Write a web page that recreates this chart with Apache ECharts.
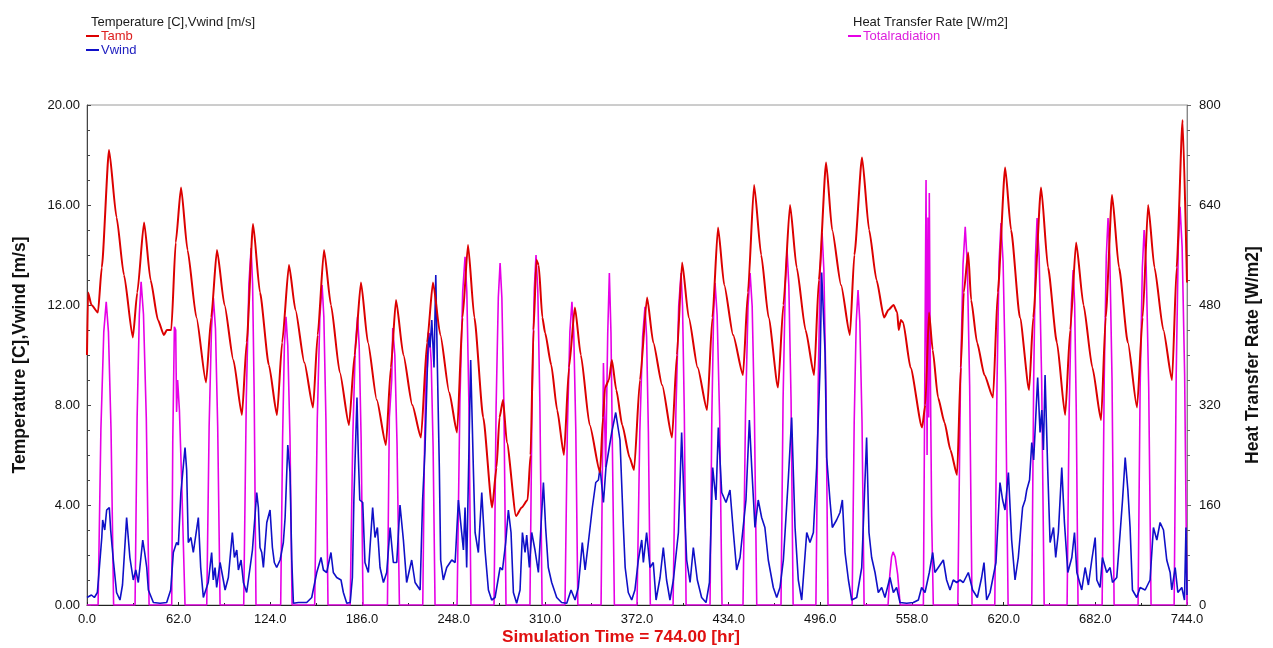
<!DOCTYPE html>
<html>
<head>
<meta charset="utf-8">
<title>Simulation Time = 744.00 [hr]</title>
<script src="https://cdn.jsdelivr.net/npm/echarts@6/dist/echarts.min.js"></script>
<style>
  html, body { margin: 0; padding: 0; background: #ffffff; }
  #chart { width: 1273px; height: 648px; }
</style>
</head>
<body>
<div id="chart"></div>
<script>
// Axis settings
const timeMax = 744;
const timeStep = 62;
const tempMax = 20;
const tempStep = 4;
const radMax = 800;
const radStep = 160;

// Ambient temperature [C]: [hour, value]
const tamb = [
  [0,10.0],[0.7,12.5],[3,12.0],[7.4,11.7],[10,13.5],[14.9,18.2],[20,15.5],[25,13.2],[31,10.7],[34,12.5],
  [38.6,15.3],[43,13.0],[48,11.4],[52,10.8],[54,11.0],[57,11.0],[60,14.5],[63.6,16.7],[68,14.2],[74,11.5],
  [80.5,8.9],[84,11.5],[87.9,14.2],[93,12.0],[99,9.8],[104.8,7.6],[108,10.5],[112.3,15.24],[117,12.5],[123,9.6],
  [128.5,7.6],[132,10.5],[136.6,13.6],[141,11.8],[147,9.7],[152.9,7.9],[156,10.8],[160.3,14.2],[165,12.0],[171,9.3],
  [177.2,7.2],[181,10],[185.3,12.9],[190,10.5],[196,8.2],[202.2,6.4],[205.5,9.5],[209,12.2],[214,10.0],[220,8.0],
  [225.9,6.7],[230,10.5],[234,12.9],[239,10.8],[245,8.5],[250.3,6.9],[254,11.5],[257.7,14.4],[262,11.5],[268,7.5],
  [274,3.9],[277,5.5],[279,7.5],[281.4,8.2],[284,6.5],[290.2,3.56],[294,3.9],[298,4.2],[300,6.0],[302,11],
  [304,13.8],[305.5,13.6],[308,11.5],[309.8,10.9],[314,9.6],[318,7.8],[322.6,6.0],[326,9.5],[330,11.9],[334,10.0],
  [340,7.2],[347,5.3],[349,7.5],[350.4,8.7],[353,9.0],[355,9.8],[358,8.6],[362,7.2],[367,5.9],[370,5.4],
  [374,9],[378.8,12.3],[383,10.5],[389,8.8],[395.7,6.7],[399,10],[402.5,13.7],[407,11.5],[413,9.5],[419.4,7.8],
  [423,11.5],[426.8,15.1],[431,12.8],[437,10.8],[443.7,9.2],[447,12.5],[451.2,16.8],[456,14],[461,11.5],[467.4,8.7],
  [471,12],[475.5,16.0],[480,13.5],[486,11],[491.8,9.2],[495,13],[499.9,17.7],[504,15.0],[510,12.8],[516,10.8],
  [519,14],[524.2,17.9],[529,15],[534,13],[539.1,11.5],[542,11.8],[545.5,12.0],[548,11.7],[549,11.0],[550.5,11.4],
  [552,11.3],[557,9.5],[564.8,7.1],[567,8.0],[569.5,11.7],[572,10.2],[575.6,8.3],[580,7.3],[584,6.2],[588.5,5.2],
  [591,9.5],[593,12.5],[596,14.1],[598,12.2],[602,10.5],[607,9.2],[612.8,8.3],[616,12.5],[621,17.5],[625,15.0],
  [631,11.5],[637.2,8.6],[640,11.5],[645.3,16.7],[650,13.5],[656,10.5],[661.6,7.6],[665,11],[669,14.5],[674,12],
  [680,9.5],[685.9,7.4],[689,11.5],[693.3,16.4],[698,13.5],[704,10.5],[710.2,7.9],[714,11.5],[717.7,16.0],[722,13.5],
  [728,11.0],[733.9,9.0],[737,13.5],[741,19.4],[744,12.9]
];

// Wind speed [m/s]: [hour, value]
const vwind = [
  [0,0.3],[3,0.4],[5,0.3],[7,0.5],[7.7,1.0],[10,2.7],[10.6,3.4],[12,3.0],[13.3,3.8],[15.1,3.9],
  [16,3.0],[17.8,1.8],[20,0.5],[22.3,0.2],[24,0.8],[26.8,3.5],[29,1.9],[31.3,1.0],[33,1.4],[34.7,0.9],
  [37.7,2.6],[39,2.1],[40.4,1.5],[41.5,0.6],[44.9,0.1],[49.4,0.07],[53.9,0.1],[56.6,0.6],[58.4,2.1],[60.6,2.5],
  [61.8,2.4],[63.5,4.5],[66.3,6.3],[67.4,5.4],[68.5,2.5],[70.3,2.7],[71.9,2.1],[75.3,3.5],[76.9,1.5],[78.7,0.3],
  [82,0.9],[84.3,2.1],[85.4,1.0],[86.6,1.5],[87.7,0.7],[90,1.7],[92.2,1.0],[93.4,0.6],[95.6,1.1],[98.3,2.9],
  [99.7,1.9],[101.3,2.2],[102.4,1.4],[104.2,1.8],[105.8,0.9],[108,0.5],[110.3,1.5],[111.9,2.2],[114.8,4.5],[115.9,3.9],
  [117,2.3],[118.2,2.1],[119.3,1.5],[121.6,3.3],[123.8,3.8],[125.4,2.3],[126.7,1.7],[128.3,1.5],[130.6,1.8],[132.8,2.5],
  [134,3.5],[135.8,6.4],[137.3,5.3],[138.5,1.8],[139.6,0.07],[143,0.1],[148.6,0.1],[152,0.3],[155.4,1.3],[158.3,1.9],
  [159.9,1.4],[162.1,1.3],[165,2.1],[166.6,1.3],[168.9,1.1],[171.8,1.0],[173.4,0.5],[175.7,0.07],[178,0.1],[179.5,1.1],
  [180.5,4.2],[182.6,8.3],[183.5,6.0],[184.5,4.2],[186.5,4.1],[188,1.7],[190.3,1.3],[193.2,3.9],[194.8,2.7],[196.4,3.1],
  [198.2,1.5],[200.5,0.9],[202.7,1.3],[205,3.1],[207.2,1.7],[209.5,1.7],[211.7,4.0],[214,2.6],[216.2,0.9],[219.6,1.8],
  [221.9,0.9],[225.3,0.6],[227,4.2],[228.6,6.2],[230.9,10.9],[232,10.3],[233.2,11.4],[234.7,9.5],[235.9,13.2],[237,9.5],
  [238.3,5.5],[239.2,1.8],[241,1.0],[243.3,1.5],[246.7,1.8],[249,1.7],[251.2,4.2],[254.6,2.2],[255.7,3.9],[256.8,1.5],
  [259.5,9.8],[261.3,5.5],[262.5,2.9],[264.7,2.1],[267,4.5],[269.2,2.2],[271.5,0.6],[273.7,0.2],[276,0.3],[279.4,1.5],
  [281,1.4],[283.2,2.5],[285,3.8],[286.8,2.9],[288.4,0.5],[290.6,0.07],[292.9,0.6],[294.5,2.9],[296.3,2.1],[297.4,2.8],
  [299.2,1.5],[300.8,2.9],[303,2.2],[305.3,1.3],[308.7,4.9],[310.2,3.1],[312,1.5],[314.3,0.9],[317.7,0.3],[321,0.1],
  [324.5,0.07],[327.4,0.6],[330.1,0.2],[332.3,0.7],[335,2.5],[336.9,1.4],[339.1,2.5],[341.8,3.9],[344.1,4.9],[345.9,5.0],
  [347,5.5],[349.3,4.1],[351,5.5],[354.9,6.9],[357.6,7.7],[360.5,6.6],[362.8,3.1],[364,1.5],[366.1,0.5],[368.4,0.2],
  [370.6,0.6],[372.9,1.8],[375.2,2.6],[376.3,1.7],[378.5,2.9],[380.8,1.5],[383,1.7],[384.9,0.2],[387.6,1.1],[389.8,2.3],
  [392,1.0],[394.3,0.2],[396.6,1.0],[400,2.9],[402.2,6.9],[403.8,4.2],[405.6,1.8],[407.9,0.9],[410.1,2.3],[412.8,1.0],
  [415.7,0.3],[418.7,0.1],[421,0.9],[423.2,5.5],[425.4,4.2],[427,7.1],[429.3,4.5],[432.2,4.1],[434.9,4.6],[437.2,2.9],
  [439.4,1.4],[441.7,1.9],[445.7,4.2],[448,7.4],[449.6,5.5],[451.8,3.1],[454,4.2],[456.3,3.5],[458.5,3.1],[460.8,1.8],
  [464.2,0.7],[466.5,0.3],[468.7,0.7],[471,1.8],[474.4,5.1],[476.6,7.5],[478.9,3.1],[481.1,1.0],[483.4,0.2],[486.8,2.9],
  [489,2.5],[491.3,2.9],[493.5,5.5],[495.8,9.5],[496.9,13.3],[499.2,10.1],[500.3,5.9],[502.5,4.2],[504.1,3.1],[507,3.4],
  [509.3,3.7],[510.9,4.2],[512.7,2.1],[515,1.0],[517.2,0.2],[520.6,0.3],[524,1.5],[527.3,6.7],[528.9,2.9],[530.7,1.9],
  [533,1.3],[535.2,0.5],[537.5,0.7],[539.7,0.3],[543.1,1.1],[545.4,0.5],[547.6,0.7],[549.9,0.1],[554.4,0.07],[558.9,0.1],
  [562.3,0.2],[564.5,0.7],[566.8,0.5],[569.7,1.3],[572,2.1],[573.5,1.3],[575.8,1.5],[579.2,1.8],[581.4,1.0],[583.7,0.6],
  [585.9,1.0],[588.2,0.9],[590.5,1.0],[592.7,0.9],[596.1,1.3],[599,0.6],[602.2,0.3],[605.1,1.1],[606.7,1.7],[608.5,0.2],
  [610.8,0.5],[614.8,1.7],[617.5,4.9],[619.3,4.2],[620.9,3.8],[623.2,5.3],[625.4,2.6],[627.7,1.0],[629.9,1.9],[632.8,3.9],
  [634.5,4.2],[635.6,4.6],[637.5,5.0],[639,6.5],[640.3,5.8],[643,9.1],[644.6,6.9],[645.8,7.8],[646.9,6.2],[648,9.2],
  [649.8,5.4],[651.4,2.5],[653.7,3.1],[655.2,1.9],[657,2.9],[659.3,5.5],[661.1,3.3],[663.4,1.3],[666.1,1.9],[667.9,2.9],
  [669.5,1.3],[672.8,0.6],[675.1,1.5],[677.3,0.8],[679.6,1.8],[681.9,2.7],[683,1.0],[685.2,0.7],[686.8,1.9],[689.7,1.3],
  [692,1.5],[693.6,0.9],[696.5,1.1],[698.8,2.9],[700.4,4.2],[702.2,5.9],[704,4.6],[705.5,3.1],[707.1,0.6],[710,0.3],
  [712.3,0.7],[715.7,0.6],[719,1.0],[721.3,3.1],[723.6,2.6],[725.8,3.3],[728.1,3.0],[730.3,1.8],[732.6,1.3],[733.7,0.6],
  [736,1.5],[737.8,0.5],[740.5,0.7],[742.3,0.2],[743.3,3.1],[744,0.4]
];

// Total radiation [W/m2]: [hour, value], one pulse per day
const totalRadiation = [
  [0,0],
  [7.5,0],[9.4,281],[11.35,437],[13,485],[14.5,437],[16.25,281],[18,0],
  [32.5,0],[33.9,300],[35.4,465],[36.6,517],[38.2,465],[40.1,300],[42,0],
  [57.3,0],[58.0,260],[59.1,445],[60,440],[60.6,309],[61.3,360],[62.5,312],[64,200],[66.3,0],
  [81,0],[82.6,285],[84.2,442],[85.5,491],[86.9,442],[88.4,285],[90,0],
  [106,0],[107.75,331],[109.5,514],[111,571],[112,514],[113.1,331],[114.3,0],
  [131,0],[132.3,267],[133.5,415],[134.6,461],[135.8,415],[137.3,267],[138.7,0],
  [154,0],[155.75,297],[157.5,461],[159,512],[160.2,461],[161.6,297],[163,0],
  [178,0],[179.75,267],[181.5,415],[183,461],[184.1,415],[185.4,267],[186.7,0],
  [203.2,0],[204.5,300],[206.1,360],[206.8,443],[208.2,400],[209.7,257],[211.3,0],
  [227.1,0],[228.2,240],[229.5,400],[230.2,380],[231.6,435],[232.8,390],[234.1,252],[235.4,0],
  [250.3,0],[252.2,323],[254.1,501],[255.7,557],[256.9,501],[258.3,323],[259.7,0],
  [275.3,0],[276.7,317],[278.2,492],[279.4,547],[280.6,492],[282,317],[283.4,0],
  [299.6,0],[301,325],[302.5,504],[303.7,560],[304.9,504],[306.3,325],[307.8,0],
  [323.3,0],[324.9,281],[326.6,437],[328,485],[329.2,437],[330.6,281],[332,0],
  [347.7,0],[349.3,387],[350.8,221],[352.2,435],[353.3,531],[354.4,435],[356.7,0],
  [372,0],[373.9,277],[375.8,429],[377.4,477],[378.5,429],[379.7,277],[381,0],
  [396.4,0],[398.3,308],[400.2,478],[401.8,531],[402.8,478],[404,308],[405.2,0],
  [421.4,0],[422.6,299],[423.8,464],[424.8,515],[426.2,464],[427.9,299],[429.5,0],
  [443.7,0],[445.4,308],[447.1,478],[448.5,531],[449.9,478],[451.4,308],[453,0],
  [469.4,0],[470.8,329],[472.3,511],[473.5,568],[474.7,511],[476.2,329],[477.6,0],
  [493,0],[494.5,345],[495.9,536],[497.2,595],[498.4,536],[499.8,345],[501.2,0],
  [517.5,0],[518.9,292],[520.3,454],[521.5,504],[522.7,454],[524.2,292],[525.6,0],
  [541.8,0],[543,49],[544.2,77],[545.2,85],[546.6,77],[548.3,49],[550,0],
  [565.7,0],[567.5,680],[568.2,240],[568.8,620],[569.3,300],[569.7,659],[570.5,350],[571.3,141],[572.4,0],
  [589,0],[590.75,351],[592.5,545],[594,605],[595.4,545],[597,351],[598.6,0],
  [614,0],[615.5,354],[616.9,550],[618.2,611],[619.6,550],[621.3,354],[623,0],
  [639,0],[640.3,359],[641.5,557],[642.6,619],[644,557],[645.7,359],[647.4,0],
  [662.9,0],[664.3,311],[665.8,482],[667,536],[668,482],[669.1,311],[670.3,0],
  [686.6,0],[688,359],[689.4,557],[690.6,619],[691.8,557],[693.3,359],[694.7,0],
  [710.9,0],[712.3,348],[713.8,540],[715,600],[716.4,540],[718.1,348],[719.7,0],
  [735.3,0],[736.7,369],[738.1,573],[739.3,637],[740.7,573],[742.4,369],[744,0]
];

const FONT = 'Liberation Sans, Arial, sans-serif';
const chart = echarts.init(document.getElementById('chart'), null, { renderer: 'canvas' });

chart.setOption({
  animation: false,
  backgroundColor: '#ffffff',
  textStyle: { fontFamily: FONT },
  title: [
    { text: 'Temperature [C],Vwind [m/s]', left: 86, top: 11,
      textStyle: { fontFamily: FONT, fontSize: 13, fontWeight: 'normal', color: '#1a1a1a' } },
    { text: 'Heat Transfer Rate [W/m2]', left: 848, top: 11,
      textStyle: { fontFamily: FONT, fontSize: 13, fontWeight: 'normal', color: '#1a1a1a' } },
    // x axis caption, set slightly left of the plot centre
    { text: 'Simulation Time = 744.00 [hr]', left: 502, top: 629, padding: 0,
      textStyle: { fontFamily: FONT, fontSize: 17.2, fontWeight: 'bold', color: '#e01010' } }
  ],
  legend: [
    {
      data: [
        { name: 'Tamb', textStyle: { color: '#dd2020' } },
        { name: 'Vwind', textStyle: { color: '#2020c0' } }
      ],
      orient: 'vertical', left: 86, top: 29, itemGap: 0, padding: 0,
      icon: 'rect', itemWidth: 13, itemHeight: 2,
      textStyle: { fontFamily: FONT, fontSize: 13, padding: [0, 0, 0, -3], lineHeight: 14 }
    },
    {
      data: [{ name: 'Totalradiation', textStyle: { color: '#dd20dd' } }],
      orient: 'vertical', left: 848, top: 29, itemGap: 0, padding: 0,
      icon: 'rect', itemWidth: 13, itemHeight: 2,
      textStyle: { fontFamily: FONT, fontSize: 13, padding: [0, 0, 0, -3], lineHeight: 14 }
    }
  ],
  grid: {
    left: 87, right: 86, top: 105, bottom: 43,
    show: true, borderColor: '#9a9a9a', borderWidth: 1, backgroundColor: 'transparent'
  },
  xAxis: {
    type: 'value', min: 0, max: timeMax, interval: timeStep,
    axisLine: { lineStyle: { color: '#222', width: 1 } },
    axisTick: { inside: true, length: 3, lineStyle: { color: '#222' } },
    minorTick: { show: true, splitNumber: 2, length: 2, lineStyle: { color: '#222' } },
    axisLabel: { fontFamily: FONT, fontSize: 13, color: '#111', margin: 8,
      formatter: v => v.toFixed(1) },
    splitLine: { show: false }
  },
  yAxis: [
    {
      type: 'value', min: 0, max: tempMax, interval: tempStep, position: 'left',
      name: 'Temperature [C],Vwind [m/s]', nameLocation: 'middle', nameGap: 58, nameRotate: 90,
      nameTextStyle: { fontFamily: FONT, fontSize: 17.5, fontWeight: 'bold', color: '#111' },
      axisLine: { show: true, lineStyle: { color: '#444', width: 1 } },
      axisTick: { show: true, inside: true, length: 4, lineStyle: { color: '#444' } },
      minorTick: { show: true, splitNumber: 4, length: 3, lineStyle: { color: '#444' } },
      axisLabel: { fontFamily: FONT, fontSize: 13, color: '#111', margin: 7,
        formatter: v => v.toFixed(2) },
      splitLine: { show: false }
    },
    {
      type: 'value', min: 0, max: radMax, interval: radStep, position: 'right',
      name: 'Heat Transfer Rate [W/m2]', nameLocation: 'middle', nameGap: 57, nameRotate: 90,
      nameTextStyle: { fontFamily: FONT, fontSize: 17.5, fontWeight: 'bold', color: '#111' },
      axisLine: { show: true, lineStyle: { color: '#888', width: 1 } },
      axisTick: { show: true, inside: false, length: 4, lineStyle: { color: '#666' } },
      minorTick: { show: true, splitNumber: 4, length: 3, lineStyle: { color: '#666' } },
      axisLabel: { fontFamily: FONT, fontSize: 13, color: '#111', margin: 12,
        formatter: v => String(v) },
      splitLine: { show: false }
    }
  ],
  series: [
    {
      name: 'Totalradiation', type: 'line', yAxisIndex: 1, data: totalRadiation,
      showSymbol: false, symbol: 'none', color: '#e600e6',
      lineStyle: { color: '#e600e6', width: 1.6 }, z: 2
    },
    {
      name: 'Vwind', type: 'line', yAxisIndex: 0, data: vwind,
      showSymbol: false, symbol: 'none', color: '#1010c8',
      lineStyle: { color: '#1010c8', width: 1.6 }, z: 3
    },
    {
      name: 'Tamb', type: 'line', yAxisIndex: 0, data: tamb,
      showSymbol: false, symbol: 'none', color: '#dc0000',
      smooth: 0.2, smoothMonotone: 'x',
      lineStyle: { color: '#dc0000', width: 2 }, z: 4
    }
  ]
});
</script>
</body>
</html>
